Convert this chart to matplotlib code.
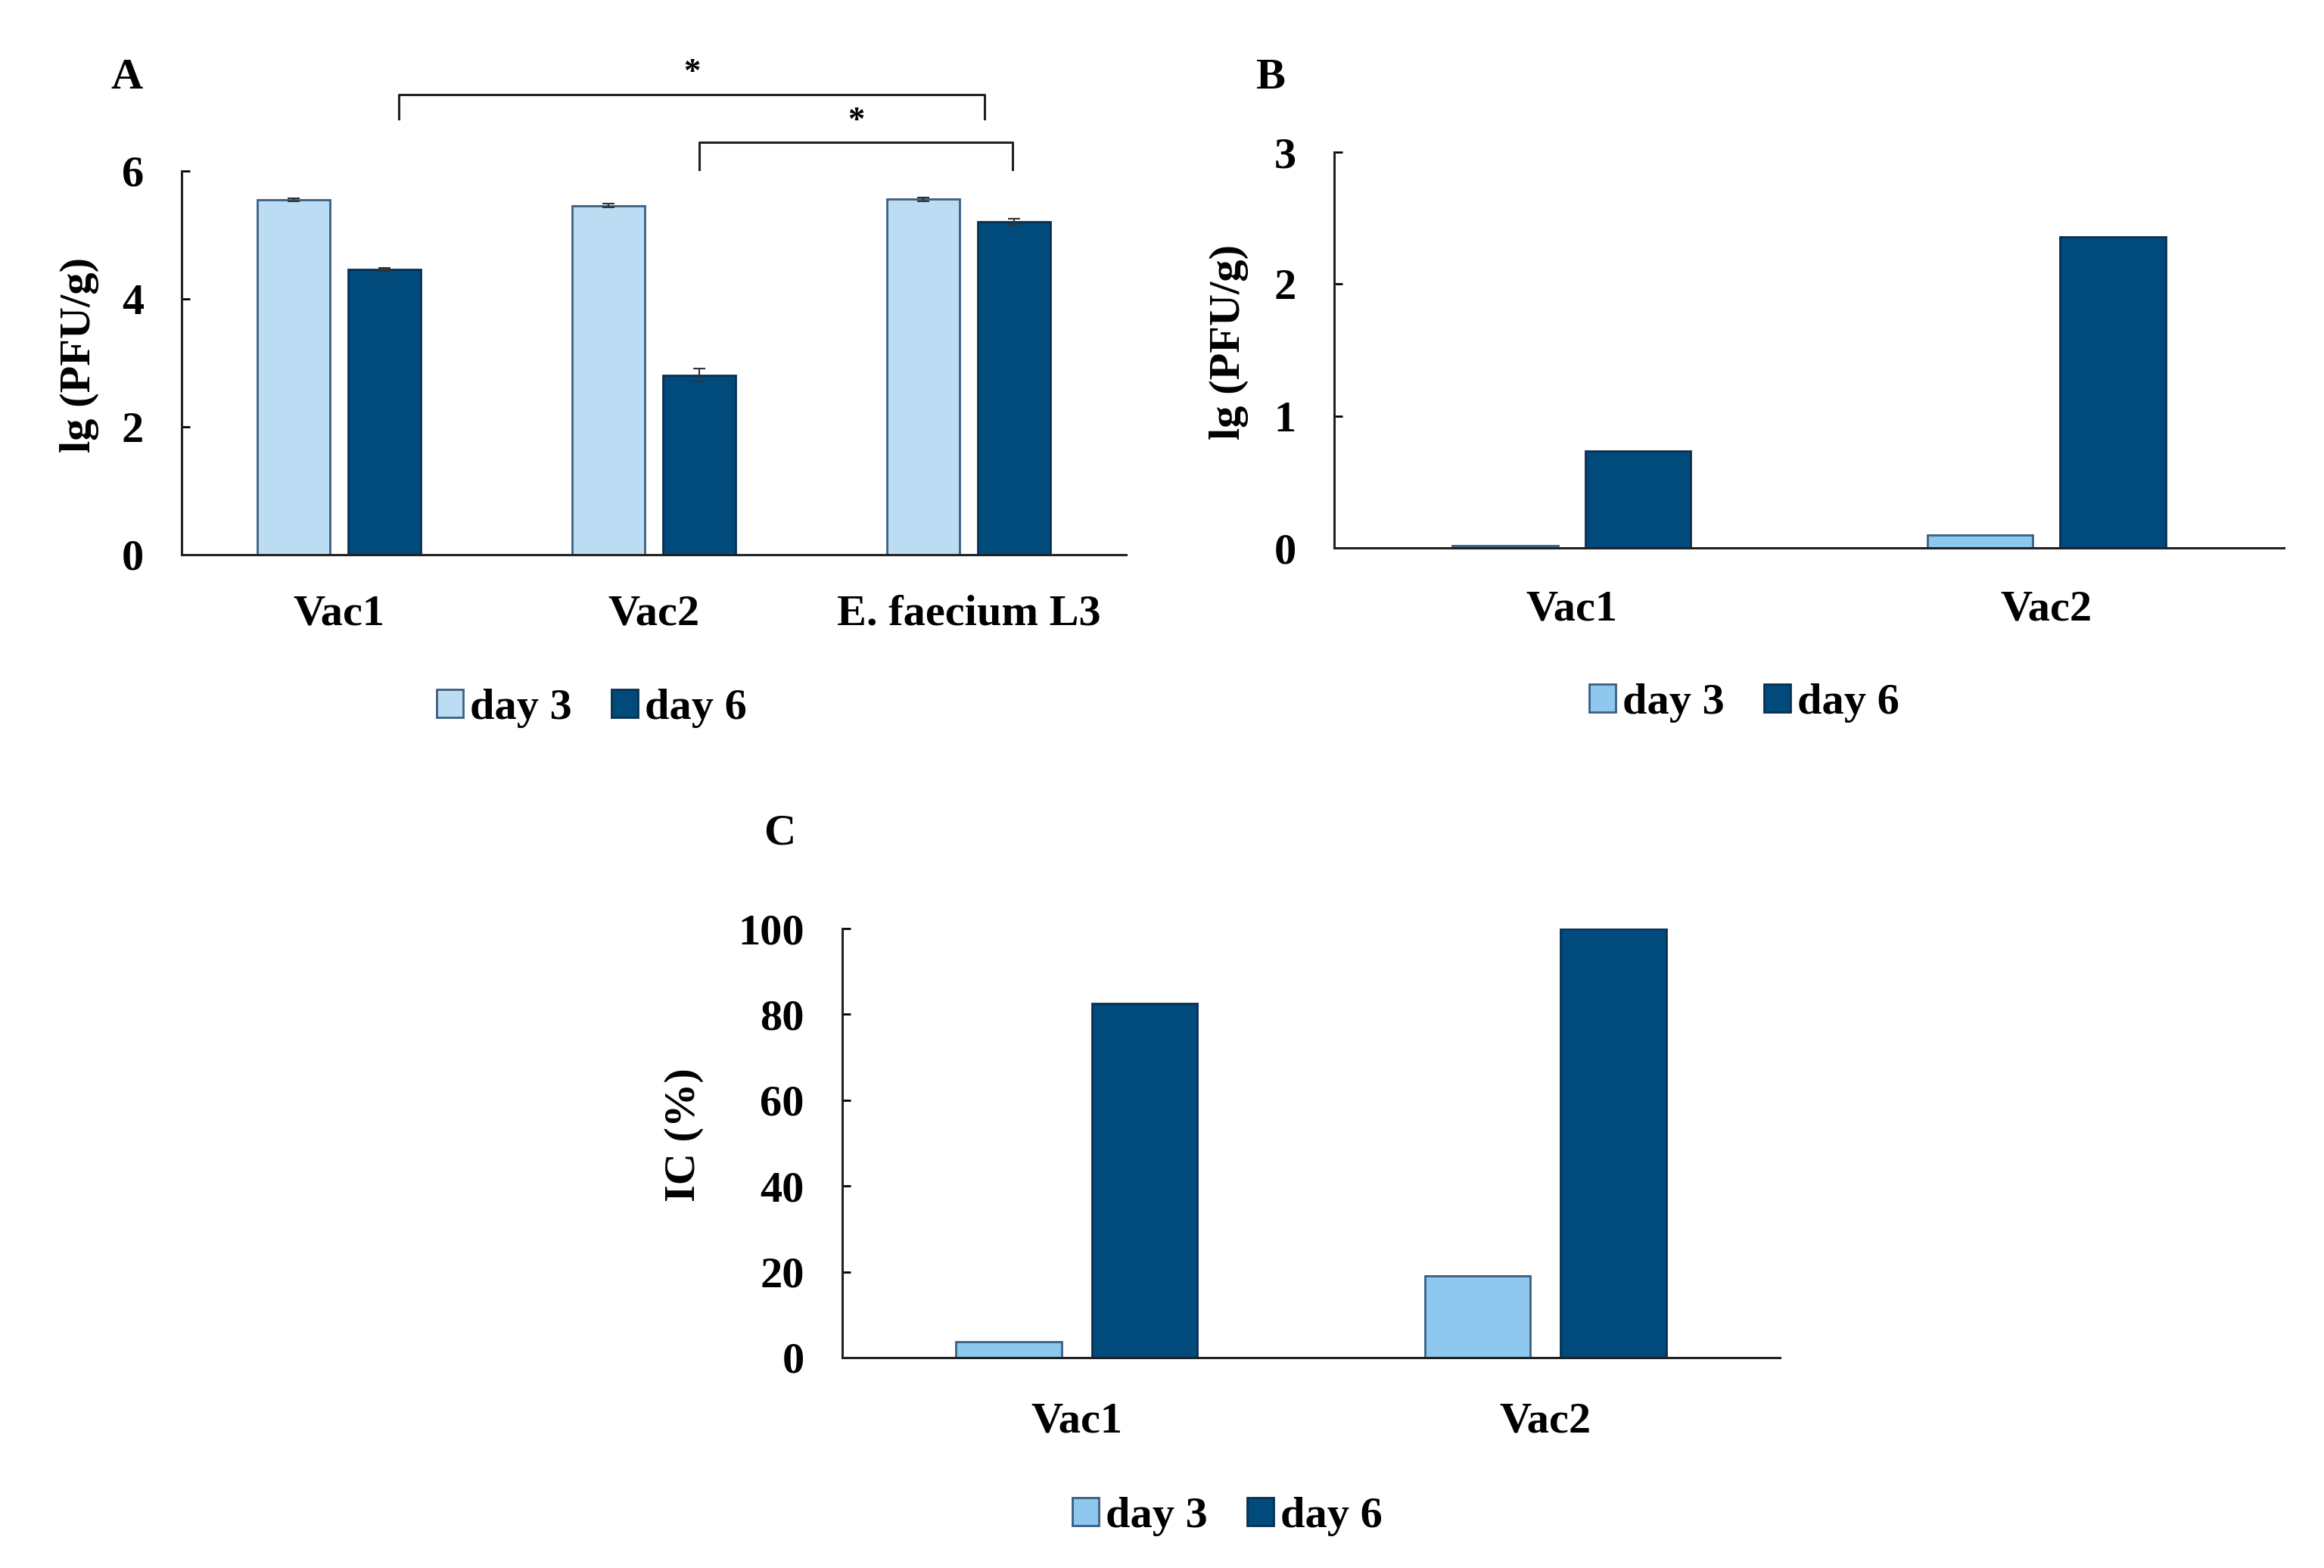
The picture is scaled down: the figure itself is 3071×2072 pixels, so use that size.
import numpy as np
import matplotlib
matplotlib.use("Agg")
import matplotlib.pyplot as plt

plt.rcParams['font.family'] = ['Liberation Serif', 'DejaVu Serif']
plt.rcParams['font.weight'] = 'bold'

# panel A data
a_groups = ["Vac1", "Vac2", "E. faecium L3"]
a_day3 = [5.55, 5.46, 5.56]
a_day6 = [4.46, 2.81, 5.21]
a_err3 = [0.02, 0.03, 0.03]
a_err6 = [0.02, 0.10, 0.04]

# panel B data
b_groups = ["Vac1", "Vac2"]
b_day3 = [0.02, 0.095]
b_day6 = [0.735, 2.36]

# panel C data
c_groups = ["Vac1", "Vac2"]
c_day3 = [3.7, 19.0]
c_day6 = [82.5, 100.0]

W, H = 3071, 2072
FS = 42
light_a = "#bcdcf4"
light_bc = "#8ec8ef"
dark = "#004a7c"
edge = "#3a5f80"

fig = plt.figure(figsize=(W / 100, H / 100), dpi=100)


def make_ax(left, right, bottom, top):
    return fig.add_axes([left / W, 1 - bottom / H, (right - left) / W, (bottom - top) / H])


def style(ax, groups, ylim, yticks, ylabel, xlab_pad, ylab_x):
    ax.set_xlim(-0.5, len(groups) - 0.5)
    ax.set_ylim(*ylim)
    ax.set_yticks(yticks)
    ax.set_xticks(np.arange(len(groups)))
    ax.set_xticklabels(groups)
    for s in ["top", "right"]:
        ax.spines[s].set_visible(False)
    for s in ["left", "bottom"]:
        ax.spines[s].set_linewidth(2.2)
        ax.spines[s].set_color("#222222")
    ax.tick_params(axis="x", length=0, pad=xlab_pad, labelsize=FS)
    ax.tick_params(axis="y", direction="in", length=8, width=2, pad=36, labelsize=FS)
    ax.set_ylabel(ylabel, fontsize=FS, fontweight="bold")
    ax.yaxis.set_label_coords(ylab_x, 0.52)


def draw_bars(ax, d3, d6, c3, w=0.23, off=0.145, e3=None, e6=None):
    x = np.arange(len(d3))
    ax.bar(x - off, d3, w, color=c3, edgecolor=edge, linewidth=2, label="day 3", zorder=2)
    ax.bar(x + off, d6, w, color=dark, edgecolor="#0a3050", linewidth=2, label="day 6", zorder=2)
    if e3 is not None:
        ax.errorbar(x - off, d3, yerr=e3, fmt="none", ecolor="#333333", capsize=6, elinewidth=1.5, capthick=1.5, zorder=3)
        ax.errorbar(x + off, d6, yerr=e6, fmt="none", ecolor="#333333", capsize=6, elinewidth=1.5, capthick=1.5, zorder=3)


def add_legend(ax, cx, cy):
    ax.legend(loc="center", bbox_to_anchor=(cx / W, 1 - cy / H), bbox_transform=fig.transFigure,
              ncol=2, frameon=False, handlelength=0.6, handleheight=0.6,
              handletextpad=0.15, columnspacing=0.9, prop={"weight": "bold", "size": FS})


# A
axA = make_ax(240, 1488, 733, 226)
draw_bars(axA, a_day3, a_day6, light_a, e3=a_err3, e6=a_err6)
style(axA, a_groups, (0, 6), [0, 2, 4, 6], "lg (PFU/g)", 38, -0.087)
add_legend(axA, 782, 936)


def bracket(ax, x1, x2, ytop, ybot):
    ax.plot([x1, x1, x2, x2], [ybot, ytop, ytop, ybot], color="#222222", lw=2.2, clip_on=False)
    ax.text((x1 + x2) / 2, ytop + 0.1, "*", ha="center", va="bottom", fontsize=32, fontweight="bold")


bracket(axA, 0 + 0.19, 2 + 0.05, 7.2, 6.82)
bracket(axA, 1 + 0.145, 2 + 0.14, 6.45, 6.02)

# B
axB = make_ax(1763, 3018, 724, 201)
draw_bars(axB, b_day3, b_day6, light_bc, w=0.222, off=0.14)
style(axB, b_groups, (0, 3), [0, 1, 2, 3], "lg (PFU/g)", 40, -0.09)
add_legend(axB, 2305, 929)

# C
axC = make_ax(1113, 2352, 1794, 1227)
draw_bars(axC, c_day3, c_day6, light_bc, w=0.225, off=0.145)
style(axC, c_groups, (0, 100), [0, 20, 40, 60, 80, 100], "IC (%)", 42, -0.148)
add_legend(axC, 1622, 2004)

fig.text(167 / W, 1 - 103 / H, "A", fontsize=FS, fontweight="bold", ha="center", va="center")
fig.text(1678 / W, 1 - 103 / H, "B", fontsize=FS, fontweight="bold", ha="center", va="center")
fig.text(1030 / W, 1 - 1102 / H, "C", fontsize=FS, fontweight="bold", ha="center", va="center")

fig.savefig("out.png", dpi=100, facecolor="white")
